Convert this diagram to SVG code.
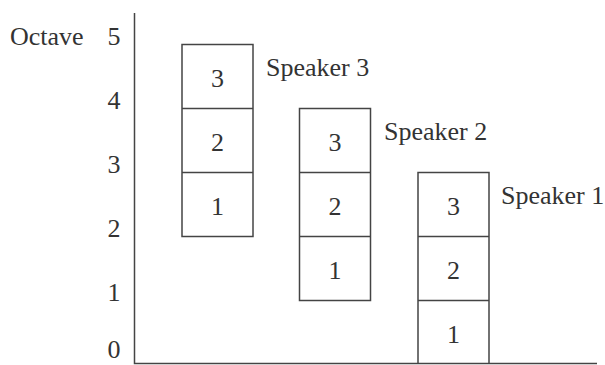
<svg xmlns="http://www.w3.org/2000/svg" width="605" height="365" viewBox="0 0 605 365">
<style>
text{font-family:"Liberation Serif","Times New Roman",serif;font-size:26px;fill:#333}
.c{text-anchor:middle}
.box{fill:none;stroke:#444;stroke-width:1.5}
.axis{fill:none;stroke:#444;stroke-width:1.5}
</style>
<rect width="605" height="365" fill="#fff"/>
<g id="axes">
<path class="axis" d="M134.5 13 V363.5 H597"/>
<text x="10" y="45">Octave</text>
<text class="c" x="114" y="45">5</text>
<text class="c" x="114" y="109">4</text>
<text class="c" x="114" y="173">3</text>
<text class="c" x="114" y="237">2</text>
<text class="c" x="114" y="301">1</text>
<text class="c" x="114" y="358">0</text>
</g>
<g id="speaker3">
<rect class="box" x="182" y="44.5" width="71" height="192"/>
<path class="box" d="M182 108.5 H253 M182 172.5 H253"/>
<text class="c" x="217.5" y="87">3</text>
<text class="c" x="217.5" y="151">2</text>
<text class="c" x="217.5" y="215">1</text>
<text x="266" y="76">Speaker 3</text>
</g>
<g id="speaker2">
<rect class="box" x="299.5" y="108.5" width="71" height="192"/>
<path class="box" d="M299.5 172.5 H370.5 M299.5 236.5 H370.5"/>
<text class="c" x="335" y="151">3</text>
<text class="c" x="335" y="215">2</text>
<text class="c" x="335" y="279">1</text>
<text x="384" y="140">Speaker 2</text>
</g>
<g id="speaker1">
<path class="box" d="M418 363.5 V172.5 H489 V363.5 M418 236.5 H489 M418 300.5 H489"/>
<text class="c" x="453.5" y="215">3</text>
<text class="c" x="453.5" y="279">2</text>
<text class="c" x="453.5" y="343">1</text>
<text x="501" y="204">Speaker 1</text>
</g>
<g id="connectors"></g>
</svg>
